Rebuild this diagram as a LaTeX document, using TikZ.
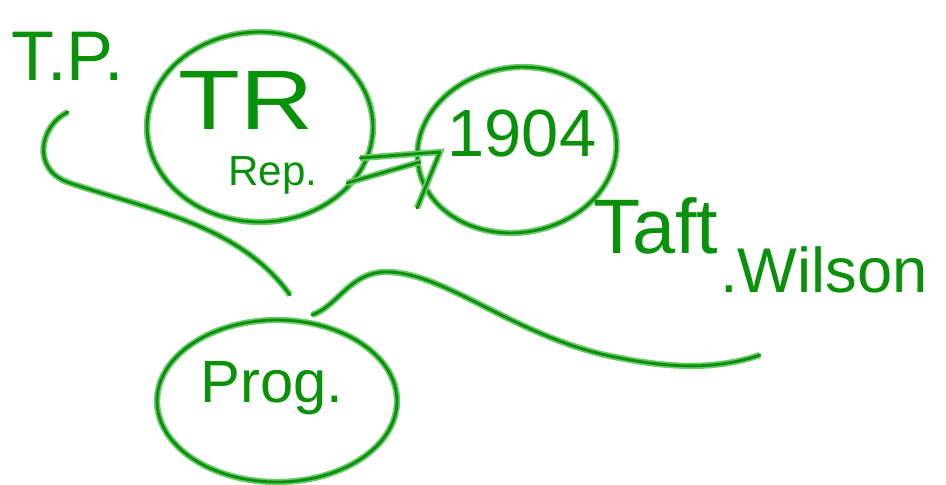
\documentclass[tikz,border=0pt]{standalone}
\usepackage{fontspec}
\setmainfont{Liberation Sans}
\usetikzlibrary{shapes.geometric}
\definecolor{pen}{RGB}{10,145,10}
\definecolor{halo}{RGB}{110,200,110}

\begin{document}
\begin{tikzpicture}
			[x=0.02cm,y=-0.02cm,
			 ink/.style={draw=pen,line width=1.6pt,line cap=round,line join=round,preaction={draw=halo,line width=3.6pt}},
			 ring/.style={ink,ellipse,inner sep=0pt},
			 word/.style={text=pen,inner sep=0pt}]
			\useasboundingbox (0,0) rectangle (946,484);

			\node[ring,minimum width=4.52cm,minimum height=3.8cm] (tr) at (260,127) {};
			\node[ring,minimum width=4.0cm,minimum height=3.3cm,rotate=9] (yr) at (517,150) {};
			\node[ring,minimum width=4.8cm,minimum height=3.24cm] (prog) at (277,401) {};

			\node[word,font=\fontsize{40}{40}\selectfont] (tp) at (68,56) {T.P.};
			\node[word,font=\fontsize{48}{48}\selectfont,xscale=1.2] (trl) at (246,100) {TR};
			\node[word,font=\fontsize{24}{24}\selectfont] (rep) at (273,175) {Rep.};
			\node[word,font=\fontsize{38}{38}\selectfont] (year) at (522,134) {1904};
			\node[word,font=\fontsize{44}{44}\selectfont] (taft) at (656,226) {Taft};
			\node[word,font=\fontsize{36}{36}\selectfont] (wil) at (824,270) {.Wilson};
			\node[word,font=\fontsize{34}{34}\selectfont] (prl) at (272,388) {Prog.};

			% arrow TR -> 1904
			\coordinate (a1) at (360,158);
			\coordinate (a2) at (347,183);
			\coordinate (tip) at (440,152);
			\coordinate (a3) at (420,162);
			\coordinate (barb) at (417,208);
			\draw[ink] (a1) -- (tip) -- (barb);
			\draw[ink] (a2) -- (a3);

			% T.P. -> Prog. and Prog. -> Taft/Wilson
			\coordinate (c1) at (68,112);
			\coordinate (c2) at (290,295);
			\coordinate (c3) at (312,315);
			\coordinate (c4) at (760,355);
			\draw[ink] (c1) .. controls (40,125) and (30,170) .. (70,183)
				.. controls (150,210) and (240,225) .. (c2);
			\draw[ink] (c3) .. controls (340,305) and (350,270) .. (390,272)
				.. controls (450,275) and (520,340) .. (620,358)
				.. controls (690,372) and (730,365) .. (c4);

			\end{tikzpicture}
\end{document}
